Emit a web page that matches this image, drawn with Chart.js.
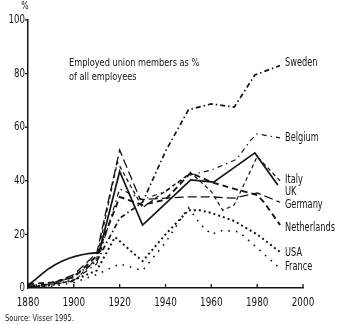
<!DOCTYPE html>
<html>
<head>
<meta charset="utf-8">
<script src="https://cdn.jsdelivr.net/npm/chart.js@4.4.1/dist/chart.umd.min.js"></script>
<style>
    html, body { margin: 0; padding: 0; background: #ffffff; }
    canvas { display: block; }
</style>
</head>
<body>
<canvas id="densityChart" width="338" height="324"></canvas>
<script>
// --- Union density series (% of employees) ---

const countries = ["Sweden", "Belgium", "UK", "Italy", "Germany", "Netherlands", "USA", "France"];

const swedenYears = [1880, 1890, 1900, 1910, 1920, 1930, 1940, 1950, 1960, 1970, 1979, 1990];
const swedenShare = [0.5, 1, 4.5, 10, 26, 32, 51, 66.5, 68.7, 67.5, 79.5, 83];

const belgiumYears = [1880, 1890, 1900, 1910, 1920, 1930, 1940, 1950, 1960, 1971, 1977, 1980, 1990];
const belgiumShare = [0, 1, 3, 9, 37, 33, 36, 42, 44, 48, 55, 57.5, 56];

const ukYears = [1880, 1883, 1886, 1889, 1892, 1895, 1898, 1901, 1904, 1907, 1911, 1920, 1930, 1951, 1961, 1979, 1989];
const ukShare = [1, 3, 5.2, 7.2, 8.8, 10.1, 11.1, 11.9, 12.5, 12.9, 13.2, 43.5, 23.5, 40.3, 39.5, 50.4, 38.4];

const italyYears = [1880, 1890, 1900, 1910, 1919, 1930, 1951, 1960, 1965, 1970, 1980, 1990];
const italyShare = [0, 1.5, 2.5, 11, 47, 30, 43, 36, 29, 31, 49, 40];

const germanyYears = [1880, 1890, 1900, 1910, 1920, 1929, 1950, 1960, 1970, 1980, 1990];
const germanyShare = [1, 1.5, 5, 13, 51.5, 33, 34, 34, 33.5, 35.5, 32];

const netherlandsYears = [1880, 1890, 1900, 1910, 1920, 1930, 1940, 1951, 1960, 1970, 1980, 1983, 1990];
const netherlandsShare = [1.5, 2, 4, 12, 34, 31, 33, 43, 39.5, 37, 34.7, 32, 23.5];

const usaYears = [1880, 1890, 1900, 1910, 1918, 1930, 1940, 1950, 1955, 1960, 1970, 1980, 1990];
const usaShare = [0.5, 1, 3, 6.5, 19, 10, 20, 29, 29, 28, 25, 20, 13.4];

const franceYears = [1880, 1890, 1900, 1910, 1920, 1930, 1940, 1950, 1955, 1960, 1965, 1972, 1980, 1989];
const franceShare = [0, 0.5, 2, 5, 9, 6.5, 17, 30, 24, 20, 21.5, 21, 15, 8];

// where each country name sits on the right, in % units
const labelLevels = [84, 56, 35.8, 40.3, 31, 22.4, 13, 7.8];

const xTicks = [1880, 1900, 1920, 1940, 1960, 1980, 2000];
const yTicks = [0, 20, 40, 60, 80, 100];

const FONT = "'Liberation Sans Narrow', 'DejaVu Sans Condensed', sans-serif";
const INK = "#141414";

function toPoints(years, values) {
    return years.map((year, i) => ({ x: year, y: values[i] }));
}

// Draw squeezed text so the narrow face looks like the condensed print font
function condensedText(ctx, text, x, y, size, squeeze, align) {
    ctx.save();
    ctx.font = size + "px " + FONT;
    ctx.textBaseline = "middle";
    ctx.textAlign = "left";
    const width = ctx.measureText(text).width * squeeze;
    let left = x;
    if (align === "right") left = x - width;
    else if (align === "center") left = x - width / 2;
    ctx.translate(left, y);
    ctx.scale(squeeze, 1);
    ctx.fillStyle = INK;
    ctx.fillText(text, 0, 0);
    ctx.restore();
}

const lineStyles = {
    Sweden:      { dash: [5, 3, 1.5, 3], width: 1.7 },
    Belgium:     { dash: [5, 4, 1.5, 4], width: 1.2 },
    UK:          { dash: [], width: 1.7 },
    Italy:       { dash: [4, 3], width: 1.2 },
    Germany:     { dash: [9, 4], width: 1.3 },
    Netherlands: { dash: [6, 4], width: 1.9 },
    USA:         { dash: [2, 3], width: 2 },
    France:      { dash: [1.6, 6], width: 1.6 }
};

const seriesData = {
    Sweden: toPoints(swedenYears, swedenShare),
    Belgium: toPoints(belgiumYears, belgiumShare),
    UK: toPoints(ukYears, ukShare),
    Italy: toPoints(italyYears, italyShare),
    Germany: toPoints(germanyYears, germanyShare),
    Netherlands: toPoints(netherlandsYears, netherlandsShare),
    USA: toPoints(usaYears, usaShare),
    France: toPoints(franceYears, franceShare)
};

const datasets = countries.map(name => ({
    label: name,
    data: seriesData[name],
    borderColor: INK,
    borderWidth: lineStyles[name].width,
    borderDash: lineStyles[name].dash,
    pointRadius: 0,
    tension: 0,
    fill: false
}));

// --- Axes ticks, tick labels and annotations ---

const annotationPlugin = {
    id: "annotations",
    afterDraw(chart) {
        const ctx = chart.ctx;
        const xs = chart.scales.x;
        const ys = chart.scales.y;
        const axisY = ys.getPixelForValue(0);
        const axisX = xs.getPixelForValue(1880);

        ctx.save();
        ctx.strokeStyle = INK;
        ctx.lineWidth = 1.3;
        ctx.setLineDash([]);

        xTicks.forEach(year => {
            const px = xs.getPixelForValue(year);
            if (year > 1880) {
                ctx.beginPath();
                ctx.moveTo(px, axisY);
                ctx.lineTo(px, axisY - 4);
                ctx.stroke();
            }
            condensedText(ctx, String(year), px, axisY + 15, 12, 0.82, "center");
        });

        yTicks.forEach(v => {
            const py = ys.getPixelForValue(v);
            if (v > 0) {
                ctx.beginPath();
                ctx.moveTo(axisX, py);
                ctx.lineTo(axisX - 3, py);
                ctx.stroke();
            }
            condensedText(ctx, String(v), axisX - 3, py, 12, 0.8, "right");
        });
        ctx.restore();

        condensedText(ctx, "%", axisX - 3, ys.getPixelForValue(100) - 14, 10, 0.85, "center");

        condensedText(ctx, "Employed union members as %", 69, 63, 11, 0.83, "left");
        condensedText(ctx, "of all employees", 69, 77, 11, 0.83, "left");

        countries.forEach((name, i) => {
            condensedText(ctx, name, 285, ys.getPixelForValue(labelLevels[i]), 12, 0.76, "left");
        });

        condensedText(ctx, "Source: Visser 1995.", 5, 319, 9, 0.83, "left");
    }
};

new Chart(document.getElementById("densityChart"), {
    type: "line",
    data: { datasets: datasets },
    options: {
        responsive: false,
        devicePixelRatio: 1,
        animation: false,
        layout: { padding: { top: 20, right: 35, left: 0, bottom: 0 } },
        plugins: {
            legend: { display: false },
            tooltip: { enabled: false }
        },
        scales: {
            x: {
                type: "linear",
                min: 1880,
                max: 2000,
                ticks: { display: false, stepSize: 20 },
                grid: { display: false },
                border: { display: true, color: INK, width: 1.5 },
                afterFit: scale => { scale.height = 36; }
            },
            y: {
                min: 0,
                max: 100,
                ticks: { display: false, stepSize: 20 },
                grid: { display: false },
                border: { display: true, color: INK, width: 1.5 },
                afterFit: scale => { scale.width = 28; }
            }
        }
    },
    plugins: [annotationPlugin]
});
</script>
</body>
</html>
